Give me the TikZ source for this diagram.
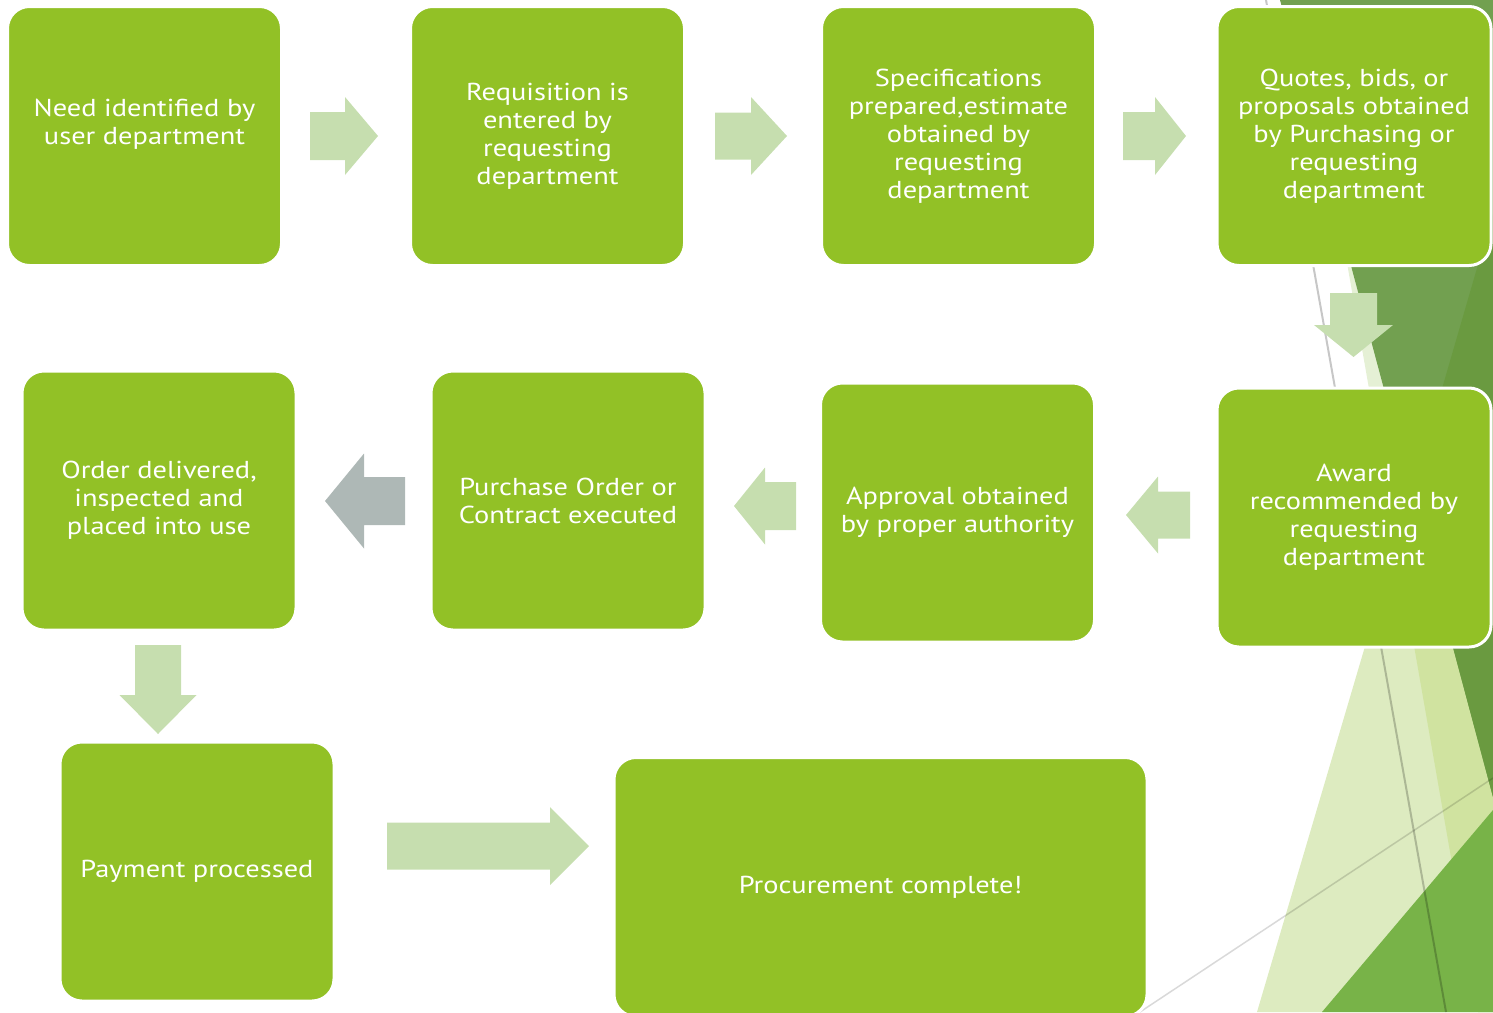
\documentclass[tikz,border=0pt]{standalone}
\usepackage{fontspec}
\setmainfont[FakeStretch=1.16]{PT Sans}
\definecolor{boxgreen}{RGB}{146,193,38}
\definecolor{arrgreen}{RGB}{198,222,175}
\definecolor{arrgray}{RGB}{174,184,182}
\definecolor{facetmid}{RGB}{114,160,80}
\definecolor{facetdark}{RGB}{106,154,64}
\definecolor{facetpale}{RGB}{221,235,192}
\definecolor{facetstrip}{RGB}{229,240,213}
\definecolor{facetover}{RGB}{208,227,160}
\definecolor{facetgreen}{RGB}{120,179,72}
\newcommand\ArrH[7]{\fill[#7] (#1,{#4-#5}) -- (#2,{#4-#5}) -- (#2,{#4-#6}) -- (#3,#4) -- (#2,{#4+#6}) -- (#2,{#4+#5}) -- (#1,{#4+#5}) -- cycle;}
\newcommand\ArrV[7]{\fill[#7] ({#4-#5},#1) -- ({#4-#5},#2) -- ({#4-#6},#2) -- (#4,#3) -- ({#4+#6},#2) -- ({#4+#5},#2) -- ({#4+#5},#1) -- cycle;}
\begin{document}
\begin{tikzpicture}[x=1pt,y=-1pt,
  box/.style={draw=white, line width=3pt, fill=boxgreen, rounded corners=22pt,
    minimum width=274pt, minimum height=259pt, inner sep=0pt, outer sep=0pt,
    text=white, align=center, font=\fontsize{24.5}{28}\selectfont},
  blk/.style={fill=arrgreen},
  blkgray/.style={fill=arrgray},
  facetline/.style={draw=black, draw opacity=0.22, line width=2pt},
  facetline2/.style={draw=black, draw opacity=0.15, line width=1.5pt},
]
\useasboundingbox (0,0) rectangle (1493,1012);
% background facets
\fill[facetstrip] (1301,0) -- (1493,0) -- (1493,1012) -- (1478,1012) -- cycle;
\fill[facetpale] (1493,213) -- (1493,1012) -- (1257,1012) -- cycle;
\fill[facetover] (1396.5,545.6) -- (1493,213) -- (1493,1012) -- (1478,1012) -- cycle;
\fill[facetmid] (1280,0) -- (1493,0) -- (1493,797) -- cycle;
\fill[facetdark] (1411.7,493) -- (1493,213) -- (1493,797) -- cycle;
\fill[facetgreen] (1493,810) -- (1493,1012) -- (1322,1012) -- cycle;
\coordinate (l1a) at (1266,0);
\coordinate (l1b) at (1446,1012);
\coordinate (l2a) at (1140,1012);
\coordinate (l2b) at (1493,778);
\draw[facetline] (l1a) -- (l1b);
\draw[facetline2] (l2a) -- (l2b);
% block arrows
\ArrH{310}{345}{378}{136}{24}{39}{blk}
\ArrH{715}{751}{787}{136}{23.5}{39}{blk}
\ArrH{1123}{1155}{1186}{136}{24}{39}{blk}
\ArrV{293}{325}{357}{1353.5}{23.5}{39.5}{blk}
\ArrH{1190}{1158}{1126}{515}{23.5}{38.5}{blk}
\ArrH{796}{765}{734}{506}{24}{38.5}{blk}
\ArrH{405}{364}{325}{501}{24}{47.5}{blkgray}
\ArrV{645}{695}{734}{158}{23}{38.5}{blk}
\ArrH{387}{550}{589}{846}{23.5}{39}{blk}
% boxes
\node[box] (b1) at (144.5,136) {Need identified by\\user department\\~};
\node[box] (b2) at (547.5,136) {Requisition is\\entered by\\requesting\\department};
\node[box] (b3) at (958.5,136) {Specifications\\prepared,estimate\\obtained by\\requesting\\department};
\node[box] (b4) at (1354,136) {Quotes, bids, or\\proposals obtained\\by Purchasing or\\requesting\\department};
\node[box] (b5) at (1354,517.5) {Award\\recommended by\\requesting\\department};
\node[box] (b6) at (957.5,512.5) {Approval obtained\\by proper authority};
\node[box] (b7) at (568,500.5) {Purchase Order or\\Contract executed};
\node[box] (b8) at (159,500.5) {Order delivered,\\inspected and\\placed into use};
\node[box] (b9) at (197,871.5) {Payment processed};
\node[box, minimum width=533pt] (b10) at (880.5,887) {Procurement complete!};
\end{tikzpicture}
\end{document}
